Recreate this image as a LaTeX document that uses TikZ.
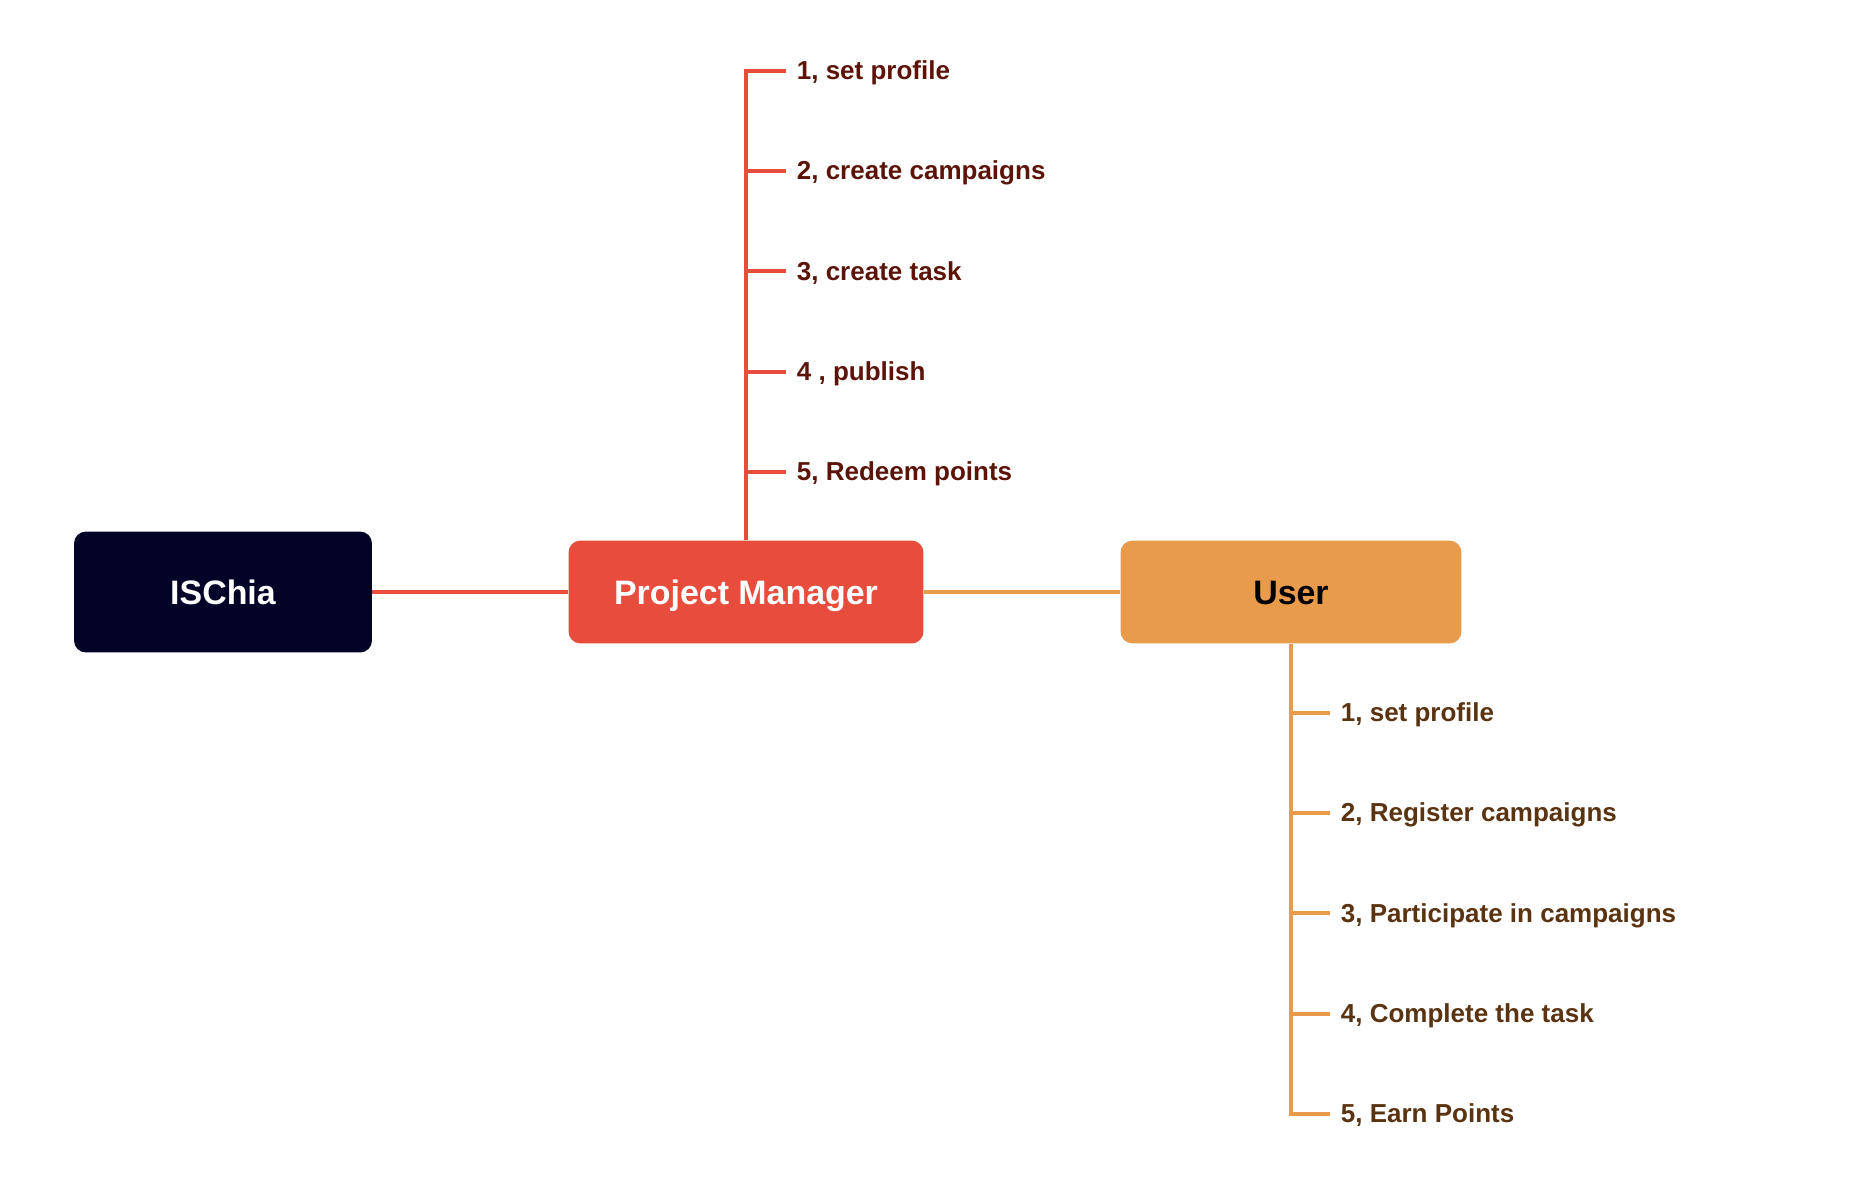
\documentclass[tikz,border=0pt]{standalone}
\usepackage{fontspec}
\setmainfont{Liberation Sans}
\usepackage{xcolor}
\usepackage{tikz}
\usetikzlibrary{positioning}
\usetikzlibrary{calc}
\definecolor{rootcol}{HTML}{020326}
\definecolor{pmcol}{HTML}{E74C3C}
\definecolor{usrcol}{HTML}{E89B4A}
\definecolor{pmtxt}{HTML}{5C1409}
\definecolor{usrtxt}{HTML}{5A3311}

\begin{document}
\begin{tikzpicture}[
  x=0.02cm,y=-0.02cm,
  dep/.style ={
    line width=2.2pt,draw=#1
  },
  box/.style 2 args={
    rectangle,
    rounded corners=6.8pt,
    fill=#1,
    text=#2,
    text height=14pt,
    text depth=0pt,
    font=\fontsize{19.3}{23}\selectfont\bfseries},
  item/.style={
    anchor=west,
    inner sep=6pt,
    text height=12pt,
    text depth=2pt,
    text=#1,
    font=\fontsize{14.8}{18}\selectfont\bfseries},
]

  \def\lvlstep{100.2}%
  \def\pmbase{71}%
  \def\usrbase{713}%

  \useasboundingbox (0,0) rectangle (1874,1204);

    % Main boxes
  \node[box={rootcol}{white},minimum width=5.96cm,minimum height=2.42cm] 
      (root) at (223,592) {ISChia};
  \node[box={pmcol}{white},minimum width=7.1cm,minimum height=2.06cm] 
      (pm) at (746,592) {Project Manager};
  \node[box={usrcol}{black},minimum width=6.82cm,minimum height=2.06cm] 
      (usr) at (1291,592) {User};

  \draw[dep=pmcol] (root.east) -- (pm.west);
  \draw[dep=usrcol] (pm.east) -- (usr.west);

    % Project Manager steps
  \foreach \txt [count=\i] in {{1, set profile},{2, create campaigns},
      {3, create task},{4 , publish},{5, Redeem points}} {
    \node[item=pmtxt] (pm_\i) at (786, {\pmbase+(\i-1)*\lvlstep}) {\txt};
    \draw[dep=pmcol] (pm.north) |- (pm_\i.west);
  }

    % User steps
  \foreach \txt [count=\i] in {{1, set profile},{2, Register campaigns},
      {3, Participate in campaigns},{4, Complete the task},{5, Earn Points}} {
    \node[item=usrtxt] (usr_\i) at (1330, {\usrbase+(\i-1)*\lvlstep}) {\txt};
    \draw[dep=usrcol] (usr.south) |- (usr_\i.west);
  }

\end{tikzpicture}
\end{document}
